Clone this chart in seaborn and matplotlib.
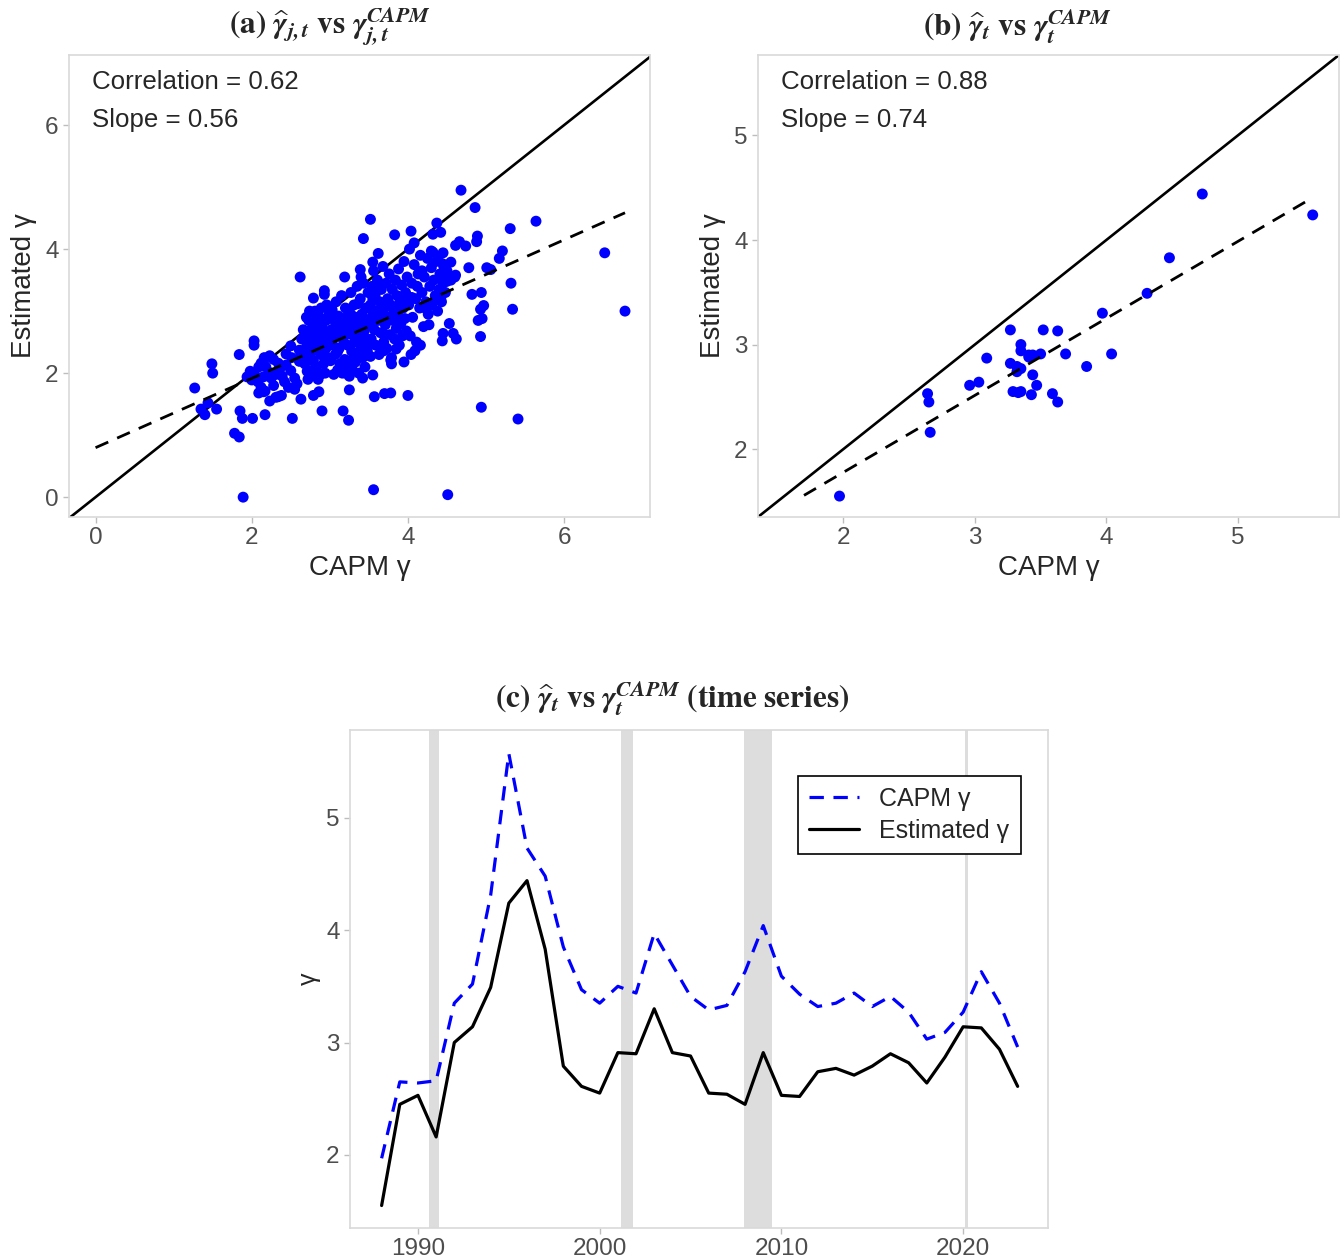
import numpy as np
import matplotlib
matplotlib.use("Agg")
import matplotlib.pyplot as plt
import seaborn as sns

# (a) firm-year gammas: (CAPM gamma, estimated gamma)
firm_year_pts = [
    (1.27, 1.76), (1.35, 1.42), (1.40, 1.33), (1.44, 1.52), (1.49, 2.15), (1.50, 2.00), (1.55, 1.42),
    (1.84, 2.30), (1.78, 1.03), (1.84, 0.97), (1.85, 1.39), (1.88, 1.27), (1.89, 0.00), (1.94, 1.94),
    (2.01, 1.27), (2.03, 2.52), (2.03, 2.45), (1.98, 2.03), (2.15, 1.94), (2.17, 1.33), (2.15, 1.70),
    (2.23, 1.55), (2.31, 1.61), (2.38, 1.64), (2.52, 1.27), (2.63, 1.58), (2.62, 3.55), (2.79, 1.64),
    (2.86, 1.70), (2.90, 1.39), (2.79, 3.21), (2.93, 3.33), (2.93, 3.27), (3.19, 3.55), (3.17, 1.39),
    (3.24, 1.24), (3.25, 1.73), (3.39, 3.67), (3.43, 4.17), (3.52, 4.48), (3.55, 3.79), (3.62, 3.93),
    (3.56, 0.12), (3.57, 1.62), (3.55, 1.97), (3.42, 1.92), (3.70, 1.67), (3.78, 1.68), (3.83, 4.23),
    (4.00, 1.64), (4.04, 4.29), (3.95, 2.18), (4.51, 0.04), (4.37, 4.42), (4.42, 4.27), (4.32, 4.24),
    (4.68, 4.95), (4.86, 4.67), (4.89, 4.21), (4.88, 4.12), (4.61, 4.06), (4.66, 4.12), (4.74, 4.05),
    (4.78, 3.70), (4.82, 3.27), (4.94, 3.30), (4.97, 3.09), (4.93, 3.03), (4.90, 2.85), (4.95, 2.88),
    (4.93, 2.59), (4.94, 1.45), (5.01, 3.70), (5.06, 3.67), (5.17, 3.85), (5.21, 3.97), (5.31, 4.33),
    (5.32, 3.45), (5.34, 3.03), (5.41, 1.26), (5.64, 4.45), (6.52, 3.94), (6.78, 3.00), (4.45, 2.64),
    (4.44, 2.52), (4.58, 2.64), (4.62, 2.55), (4.53, 2.80), (4.55, 3.79), (4.61, 3.58), (4.50, 3.48),
    (4.42, 3.55), (4.45, 3.76), (4.39, 3.88), (4.30, 3.97), (4.45, 3.94), (4.27, 2.78), (4.16, 2.45),
    (4.04, 2.30), (4.09, 2.36), (3.85, 2.39), (3.78, 2.21), (3.79, 2.15), (3.69, 2.36), (3.52, 2.27),
    (3.48, 2.36),
    # cloud 2.0 - 2.6
    (2.00, 1.89), (2.05, 1.95), (2.09, 2.10), (2.12, 2.16), (2.15, 2.19), (2.18, 2.10), (2.23, 2.01),
    (2.25, 1.92), (2.28, 1.80), (2.31, 1.98), (2.34, 2.16), (2.36, 2.07), (2.39, 1.95), (2.42, 1.86),
    (2.44, 2.13), (2.50, 2.04), (2.51, 2.25), (2.55, 1.92), (2.55, 1.74), (2.58, 1.83), (2.61, 2.19),
    (2.61, 2.37), (2.63, 2.28), (2.50, 2.44), (2.44, 2.31), (2.28, 2.22), (2.23, 2.28), (2.16, 2.25),
    (2.12, 1.77), (2.17, 1.71), (2.09, 1.68), (2.08, 1.86), (2.34, 1.62), (2.47, 1.77),
    # cloud 2.6 - 3.0
    (2.64, 2.55), (2.66, 2.70), (2.68, 2.15), (2.70, 2.42), (2.71, 2.03), (2.72, 2.60), (2.73, 2.85),
    (2.74, 2.28), (2.75, 1.95), (2.76, 2.50), (2.77, 2.72), (2.78, 2.95), (2.79, 2.20), (2.80, 2.38),
    (2.81, 3.00), (2.82, 2.62), (2.83, 2.10), (2.84, 2.80), (2.85, 1.90), (2.86, 2.45), (2.87, 2.90),
    (2.88, 2.30), (2.89, 3.05), (2.90, 2.55), (2.91, 2.68), (2.92, 2.15), (2.93, 2.85), (2.94, 2.00),
    (2.95, 2.40), (2.96, 3.10), (2.97, 2.60), (2.98, 2.25), (2.99, 2.95), (2.70, 2.90), (2.74, 3.00),
    (2.80, 2.55), (2.85, 2.65), (2.90, 2.75), (2.95, 2.85), (2.99, 2.45), (2.88, 1.98), (2.78, 2.05),
    (2.68, 2.35), (2.72, 1.90),
    # cloud 3.0 - 3.5
    (3.01, 2.20), (3.02, 2.70), (3.03, 3.02), (3.04, 2.45), (3.05, 1.98), (3.06, 2.85), (3.07, 2.30),
    (3.08, 3.15), (3.09, 2.60), (3.10, 2.05), (3.11, 2.92), (3.12, 2.40), (3.13, 2.15), (3.14, 2.75),
    (3.15, 3.25), (3.16, 2.00), (3.17, 2.55), (3.18, 2.88), (3.19, 2.22), (3.20, 3.05), (3.21, 2.65),
    (3.22, 2.10), (3.23, 2.45), (3.24, 2.95), (3.25, 1.95), (3.26, 2.80), (3.27, 3.30), (3.28, 2.35),
    (3.29, 2.05), (3.30, 2.70), (3.31, 3.10), (3.32, 2.50), (3.33, 2.18), (3.34, 2.90), (3.35, 3.40),
    (3.36, 2.60), (3.37, 2.00), (3.38, 2.78), (3.39, 3.20), (3.40, 2.40), (3.41, 2.95), (3.42, 2.25),
    (3.43, 3.45), (3.44, 2.68), (3.45, 2.10), (3.46, 3.05), (3.47, 2.55), (3.48, 2.85), (3.49, 3.30),
    (3.05, 2.60), (3.12, 2.68), (3.18, 2.48), (3.22, 2.78), (3.28, 2.62), (3.33, 2.82), (3.38, 2.52),
    (3.44, 2.88), (3.15, 2.10), (3.20, 2.00), (3.25, 2.15), (3.30, 2.22), (3.10, 2.35), (3.35, 2.30),
    (3.40, 3.55), (3.08, 2.78), (3.27, 2.95), (3.36, 3.12), (3.45, 2.75), (3.02, 2.52), (3.48, 2.42),
    # cloud 3.5 - 4.0
    (3.51, 2.80), (3.52, 3.10), (3.53, 2.55), (3.54, 3.40), (3.55, 2.95), (3.56, 3.65), (3.57, 2.70),
    (3.58, 3.25), (3.59, 2.45), (3.60, 3.00), (3.61, 3.50), (3.62, 2.85), (3.63, 2.30), (3.64, 3.15),
    (3.65, 2.65), (3.66, 3.35), (3.67, 2.95), (3.68, 3.72), (3.69, 2.50), (3.70, 3.05), (3.71, 2.78),
    (3.72, 3.45), (3.73, 2.40), (3.74, 3.20), (3.75, 2.90), (3.76, 3.60), (3.77, 2.62), (3.78, 3.10),
    (3.79, 2.25), (3.80, 3.35), (3.81, 2.85), (3.82, 3.00), (3.83, 2.55), (3.84, 3.50), (3.85, 2.72),
    (3.86, 3.25), (3.87, 2.95), (3.88, 3.68), (3.89, 2.45), (3.90, 3.15), (3.91, 2.80), (3.92, 3.42),
    (3.93, 2.60), (3.94, 3.05), (3.95, 3.80), (3.96, 2.88), (3.97, 3.30), (3.98, 2.68), (3.99, 3.55),
    (3.55, 3.20), (3.62, 3.35), (3.70, 2.62), (3.78, 2.90), (3.86, 3.05), (3.93, 3.22),
    # cloud 4.0 - 4.6
    (4.01, 3.10), (4.02, 4.00), (4.03, 2.60), (4.05, 3.45), (4.06, 2.90), (4.08, 3.75), (4.10, 3.20),
    (4.11, 2.50), (4.13, 3.60), (4.15, 3.05), (4.16, 3.90), (4.18, 3.30), (4.20, 2.75), (4.21, 3.55),
    (4.23, 3.15), (4.25, 3.85), (4.26, 2.95), (4.28, 3.40), (4.30, 3.70), (4.31, 3.10), (4.33, 3.50),
    (4.35, 3.25), (4.36, 3.80), (4.38, 3.00), (4.40, 3.35), (4.41, 3.60), (4.43, 3.15), (4.45, 3.45),
    (4.46, 3.72), (4.48, 3.30), (4.05, 3.22), (4.12, 3.40), (4.22, 3.05), (4.32, 3.95), (4.42, 3.20),
    (4.50, 3.65), (4.55, 3.50), (4.60, 3.55), (4.08, 4.10), (4.18, 3.65),
]
capm_jt, est_jt = np.array(firm_year_pts).T

# (b), (c) yearly averages
years = np.arange(1988, 2024)
capm_t = [1.97, 2.65, 2.64, 2.66, 3.35, 3.52, 4.31, 5.57, 4.73, 4.48, 3.85, 3.47,
          3.35, 3.50, 3.44, 3.97, 3.69, 3.41, 3.29, 3.33, 3.63, 4.04, 3.59, 3.43,
          3.32, 3.35, 3.44, 3.32, 3.41, 3.27, 3.03, 3.09, 3.27, 3.63, 3.35, 2.96]
est_t = [1.55, 2.45, 2.53, 2.16, 3.00, 3.14, 3.49, 4.24, 4.44, 3.83, 2.79, 2.61,
         2.55, 2.91, 2.90, 3.30, 2.91, 2.88, 2.55, 2.54, 2.45, 2.91, 2.53, 2.52,
         2.74, 2.77, 2.71, 2.79, 2.90, 2.82, 2.64, 2.87, 3.14, 3.13, 2.94, 2.61]

# NBER recessions
recessions = [(1990.58, 1991.17), (2001.17, 2001.83), (2007.92, 2009.50), (2020.08, 2020.25)]

sns.set_style("white")
plt.rcParams["font.family"] = ["Liberation Sans", "DejaVu Sans"]
plt.rcParams["mathtext.fontset"] = "stix"

BLUE = "#0000FF"
TICK_GREY = "#4D4D4D"
W, H = 1341, 1259
fig = plt.figure(figsize=(W / 100, H / 100), dpi=100)


def box(left, top, right, bottom):
    return [left / W, 1 - bottom / H, (right - left) / W, (bottom - top) / H]


def style(ax):
    for s in ax.spines.values():
        s.set_color("#D9D9D9")
        s.set_linewidth(1.2)
    ax.tick_params(axis="both", which="both", length=4, width=1, color="#BDBDBD",
                   labelsize=17.5, labelcolor=TICK_GREY, direction="out", bottom=True, left=True)


def scatter_panel(ax, x, y, lims, ticks, fit_from, corr_txt, slope_txt):
    sns.scatterplot(x=x, y=y, ax=ax, color=BLUE, s=62, edgecolor="none", linewidth=0, zorder=3)
    ax.axline((0, 0), slope=1, color="black", lw=1.9, zorder=2)
    b, a = np.polyfit(x, y, 1)
    xs = np.array([fit_from, np.max(x)])
    ax.plot(xs, a + b * xs, color="black", lw=2.0, ls=(0, (5, 3.5)), zorder=4)
    ax.set_xlim(*lims[0])
    ax.set_ylim(*lims[1])
    ax.set_xticks(ticks)
    ax.set_yticks(ticks)
    ax.set_xlabel("CAPM γ", fontsize=20, labelpad=4)
    ax.set_ylabel("Estimated γ", fontsize=20, labelpad=6)
    ax.text(0.04, 0.942, corr_txt, transform=ax.transAxes, fontsize=18.6, va="center")
    ax.text(0.04, 0.859, slope_txt, transform=ax.transAxes, fontsize=18.6, va="center")
    style(ax)


ax_a = fig.add_axes(box(69, 55, 650, 517))
scatter_panel(ax_a, capm_jt, est_jt, ((-0.34, 7.10), (-0.32, 7.13)), [0, 2, 4, 6], 0.0,
              "Correlation = 0.62", "Slope = 0.56")

ax_b = fig.add_axes(box(758, 55, 1339, 517))
scatter_panel(ax_b, np.array(capm_t), np.array(est_t), ((1.35, 5.77), (1.35, 5.77)), [2, 3, 4, 5], 1.7,
              "Correlation = 0.88", "Slope = 0.74")

g = r"\mathbfit{\gamma}"
title_kw = dict(ha="center", va="center", fontsize=22.5)
fig.text(330 / W, 1 - 27 / H,
         r"$\mathbf{(a)}\ \widehat{%s}_{\mathbfit{j,t}}\ \mathbf{vs}\ %s_{\mathbfit{j,t}}^{\mathbfit{CAPM}}$" % (g, g),
         **title_kw)
fig.text(1017 / W, 1 - 27 / H,
         r"$\mathbf{(b)}\ \widehat{%s}_{\mathbfit{t}}\ \mathbf{vs}\ %s_{\mathbfit{t}}^{\mathbfit{CAPM}}$" % (g, g),
         **title_kw)
fig.text(672 / W, 1 - 699 / H,
         r"$\mathbf{(c)}\ \widehat{%s}_{\mathbfit{t}}\ \mathbf{vs}\ %s_{\mathbfit{t}}^{\mathbfit{CAPM}}\ \mathbf{(time\ series)}$" % (g, g),
         **title_kw)

# (c) time series
ax_c = fig.add_axes(box(350, 730, 1048, 1228))
for r0, r1 in recessions:
    ax_c.axvspan(r0, r1, color="#DDDDDD", lw=0, zorder=0)
sns.lineplot(x=years, y=capm_t, ax=ax_c, color=BLUE, lw=2.3, label="CAPM γ", zorder=3)
sns.lineplot(x=years, y=est_t, ax=ax_c, color="black", lw=2.3, label="Estimated γ", zorder=3)
ax_c.lines[0].set_dashes((4.5, 3))
ax_c.set_xlim(1986.26, 2024.67)
ax_c.set_ylim(1.35, 5.78)
ax_c.set_xticks([1990, 2000, 2010, 2020])
ax_c.set_yticks([2, 3, 4, 5])
ax_c.set_xlabel("")
ax_c.set_ylabel("γ", fontsize=18, labelpad=4)
style(ax_c)
leg = ax_c.legend(loc="upper right", bbox_to_anchor=(0.961, 0.908), borderaxespad=0,
                  fancybox=False, framealpha=1, edgecolor="black", fontsize=18,
                  handlelength=2.0, borderpad=0.45, labelspacing=0.3, handletextpad=0.8)
leg.get_frame().set_linewidth(1.2)
leg.legend_handles[0].set_dashes((4.5, 3))

fig.savefig("out.png", dpi=100)
